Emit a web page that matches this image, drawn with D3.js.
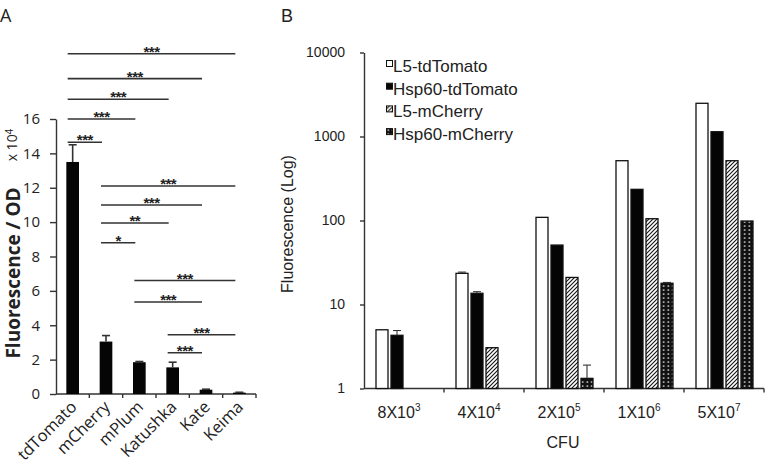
<!DOCTYPE html>
<meta charset="utf-8">
<head>
<style>
body { margin: 0; background: #fff; }
svg { display: block; background: #fff; }
.pa text { font-family: "Open Sans", "Noto Sans", sans-serif; fill: #222; }
.pb text { font-family: "Liberation Sans", Arial, sans-serif; fill: #222; }
.axis path, .axis line { stroke: #333; stroke-width: 1.4px; }
.sig { stroke: #333; stroke-width: 1.6px; }
</style>
<script src="https://d3js.org/d3.v7.min.js"></script>
</head>
<body>
<svg width="766" height="465"></svg>
<script>

// ---- panel A : fluorescence / OD (x 10^4) per protein
var proteins = ["tdTomato", "mCherry", "mPlum", "Katushka", "Kate", "Keima"];
var fluorOD  = [13.5, 3.05, 1.85, 1.55, 0.25, 0.08];
var fluorErr = [1.0, 0.35, 0.04, 0.3, 0.03, 0.02];
var yTicksA  = [0, 2, 4, 6, 8, 10, 12, 14, 16];

// significance brackets (from, to, height in y units, stars)
var sigFrom  = ["tdTomato", "tdTomato", "tdTomato", "tdTomato", "tdTomato",
                "mCherry", "mCherry", "mCherry", "mCherry",
                "mPlum", "mPlum", "Katushka", "Katushka"];
var sigTo    = ["Keima", "Kate", "Katushka", "mPlum", "mCherry",
                "Keima", "Kate", "Katushka", "mPlum",
                "Keima", "Kate", "Keima", "Kate"];
var sigLevel = [19.8, 18.35, 17.15, 16.0, 14.65, 12.1, 11.0, 9.95, 8.8, 6.6, 5.35, 3.45, 2.4];
var sigStars = ["***", "***", "***", "***", "***", "***", "***", "**", "*", "***", "***", "***", "***"];

// ---- panel B : fluorescence (log) vs CFU
var cfuBase = ["8X10", "4X10", "2X10", "1X10", "5X10"];
var cfuExp  = ["3", "4", "5", "6", "7"];
var strains = ["L5-tdTomato", "Hsp60-tdTomato", "L5-mCherry", "Hsp60-mCherry"];
var l5Tomato     = [5, 23.5, 109, 515, 2485];
var hspTomato    = [4.3, 13.6, 51, 235, 1140];
var l5Cherry     = [null, 3.06, 21, 105, 515];
var hspCherry    = [null, null, 1.32, 17.9, 98.6];
var l5TomatoErr  = [0, 0.8, 0, 0, 0];
var hspTomatoErr = [0.6, 0.6, 0, 0, 0];
var l5CherryErr  = [0, 0, 0, 0, 0];
var hspCherryErr = [0, 0, 0.58, 0.4, 0];
var yTicksB = [1, 10, 100, 1000, 10000];

var svg = d3.select("svg");

// patterns for the mCherry bars
var defs = svg.append("defs");
var hatch = defs.append("pattern").attr("id", "hatch")
    .attr("patternUnits", "userSpaceOnUse").attr("width", 4).attr("height", 4);
hatch.append("rect").attr("width", 4).attr("height", 4).attr("fill", "#fff");
hatch.append("path").attr("d", "M-1,1 l2,-2 M0,4 l4,-4 M3,5 l2,-2")
    .attr("stroke", "#111").attr("stroke-width", 1.1);
var dots = defs.append("pattern").attr("id", "dots")
    .attr("patternUnits", "userSpaceOnUse").attr("width", 4.5).attr("height", 4);
dots.append("rect").attr("width", 4.5).attr("height", 4).attr("fill", "#111");
dots.append("circle").attr("cx", 2.25).attr("cy", 2).attr("r", 0.85).attr("fill", "#fff");

/* ================= panel A ================= */
var gA = svg.append("g").attr("class", "pa");

var xA = d3.scaleBand().domain(proteins).range([56, 256])
    .paddingInner(0.62).paddingOuter(0.31);
var yA = d3.scaleLinear().domain([0, 16]).range([394, 119]);

gA.append("g").attr("class", "axis")
    .attr("transform", "translate(56,0)")
    .call(d3.axisLeft(yA).tickValues(yTicksA).tickSize(6).tickSizeOuter(0).tickPadding(10))
    .call(function(g) { g.selectAll("text").style("font-size", "15px"); });

// x axis line with ticks between categories
gA.append("line").attr("class", "sig")
    .attr("x1", xA.range()[0]).attr("x2", xA.range()[1])
    .attr("y1", yA(0)).attr("y2", yA(0)).style("stroke-width", 1.4);
gA.selectAll(".xtick").data(d3.range(1, proteins.length + 1))
  .enter().append("line").attr("class", "sig")
    .attr("x1", function(i) { return xA.range()[0] + i * xA.step(); })
    .attr("x2", function(i) { return xA.range()[0] + i * xA.step(); })
    .attr("y1", yA(0)).attr("y2", yA(0) + 4).style("stroke-width", 1.4);

var barsA = proteins.map(function(p, i) { return { name: p, v: fluorOD[i], e: fluorErr[i] }; });

gA.selectAll(".barA").data(barsA).enter().append("rect")
    .attr("x", function(d) { return xA(d.name); })
    .attr("y", function(d) { return yA(d.v); })
    .attr("width", xA.bandwidth())
    .attr("height", function(d) { return yA(0) - yA(d.v); })
    .attr("fill", "#050505");

var errA = gA.selectAll(".errA").data(barsA).enter().append("g")
    .attr("transform", function(d) { return "translate(" + (xA(d.name) + xA.bandwidth() / 2) + ",0)"; });
errA.append("line").attr("class", "sig")
    .attr("y1", function(d) { return yA(d.v); })
    .attr("y2", function(d) { return yA(d.v + d.e); });
errA.append("line").attr("class", "sig")
    .attr("x1", -4).attr("x2", 4)
    .attr("y1", function(d) { return yA(d.v + d.e); })
    .attr("y2", function(d) { return yA(d.v + d.e); });

// rotated category labels
gA.selectAll(".labA").data(proteins).enter().append("text")
    .attr("transform", function(d) {
      return "translate(" + (xA(d) + xA.bandwidth() / 2 + 5) + "," + (yA(0) + 14) + ") rotate(-45)";
    })
    .attr("text-anchor", "end")
    .style("font-size", "16.5px")
    .text(function(d) { return d; });

// significance brackets
var sig = sigFrom.map(function(f, i) {
  return { x1: xA(f) + xA.bandwidth() / 2 - 5, x2: xA(sigTo[i]) + xA.bandwidth() / 2 - 4,
           y: yA(sigLevel[i]), s: sigStars[i] };
});
gA.selectAll(".sigline").data(sig).enter().append("line").attr("class", "sig")
    .attr("x1", function(d) { return d.x1; })
    .attr("x2", function(d) { return d.x2; })
    .attr("y1", function(d) { return d.y; })
    .attr("y2", function(d) { return d.y; });
gA.selectAll(".sigtxt").data(sig).enter().append("text")
    .attr("x", function(d) { return (d.x1 + d.x2) / 2; })
    .attr("y", function(d) { return d.y + 3; })
    .attr("text-anchor", "middle")
    .style("font-size", "15px").style("font-weight", "bold")
    .style("letter-spacing", "-0.5px")
    .style("font-family", "'Liberation Sans', Arial, sans-serif")
    .text(function(d) { return d.s; });

// titles
gA.append("text").attr("x", 0).attr("y", 22).style("font-size", "18px").text("A");
gA.append("text")
    .attr("transform", "translate(20,273) rotate(-90)")
    .attr("text-anchor", "middle")
    .style("font-size", "19px").style("font-weight", "bold")
    .text("Fluorescence / OD");
var exp4 = gA.append("text")
    .attr("transform", "translate(17,145) rotate(-90)")
    .attr("text-anchor", "middle")
    .style("font-size", "14px");
exp4.append("tspan").text("x 10");
exp4.append("tspan").attr("dy", -4).style("font-size", "10px").text("4");

/* ================= panel B ================= */
var gB = svg.append("g").attr("class", "pb");

var xB = d3.scaleBand().domain(cfuBase).range([364, 764]);
var xS = d3.scaleBand().domain(strains).range([12, 69]).paddingInner(0.2);
var yB = d3.scaleLog().domain([1, 10000]).range([388.5, 52.5]);

gB.append("g").attr("class", "axis")
    .attr("transform", "translate(364,0)")
    .call(d3.axisLeft(yB).tickValues(yTicksB).tickFormat(d3.format("d"))
          .tickSize(4).tickSizeOuter(0).tickPadding(15))
    .call(function(g) { g.selectAll("text").style("font-size", "14px"); });

gB.append("line").attr("class", "sig")
    .attr("x1", 364).attr("x2", 764).attr("y1", yB(1)).attr("y2", yB(1))
    .style("stroke-width", 1.4);
gB.selectAll(".xtick").data(cfuBase).enter().append("line").attr("class", "sig")
    .attr("x1", function(d) { return xB(d) + xB.bandwidth(); })
    .attr("x2", function(d) { return xB(d) + xB.bandwidth(); })
    .attr("y1", yB(1)).attr("y2", yB(1) + 4).style("stroke-width", 1.4);

var fills = ["#fff", "#050505", "url(#hatch)", "url(#dots)"];
var seriesVals = [l5Tomato, hspTomato, l5Cherry, hspCherry];
var seriesErr  = [l5TomatoErr, hspTomatoErr, l5CherryErr, hspCherryErr];

var barsB = [];
strains.forEach(function(s, si) {
  cfuBase.forEach(function(c, ci) {
    var v = seriesVals[si][ci];
    if (v != null) barsB.push({ s: s, c: c, v: v, e: seriesErr[si][ci], f: fills[si] });
  });
});

gB.selectAll(".barB").data(barsB).enter().append("rect")
    .attr("x", function(d) { return xB(d.c) + xS(d.s); })
    .attr("y", function(d) { return yB(d.v); })
    .attr("width", xS.bandwidth())
    .attr("height", function(d) { return yB(1) - yB(d.v); })
    .attr("fill", function(d) { return d.f; })
    .attr("stroke", "#111").attr("stroke-width", 1.3);

var errB = gB.selectAll(".errB").data(barsB.filter(function(d) { return d.e > 0; }))
  .enter().append("g")
    .attr("transform", function(d) { return "translate(" + (xB(d.c) + xS(d.s) + xS.bandwidth() / 2) + ",0)"; });
errB.append("line").attr("class", "sig").style("stroke-width", 1.1)
    .attr("y1", function(d) { return yB(d.v); })
    .attr("y2", function(d) { return yB(d.v + d.e); });
errB.append("line").attr("class", "sig").style("stroke-width", 1.1)
    .attr("x1", -4).attr("x2", 4)
    .attr("y1", function(d) { return yB(d.v + d.e); })
    .attr("y2", function(d) { return yB(d.v + d.e); });

// CFU tick labels with superscript exponents
var labB = gB.selectAll(".labB").data(cfuBase).enter().append("text")
    .attr("x", function(d) { return xB(d) + xB.bandwidth() / 2 - 5; })
    .attr("y", 418)
    .attr("text-anchor", "middle")
    .style("font-size", "16px");
labB.append("tspan").text(function(d) { return d; });
labB.append("tspan").attr("dy", -7).style("font-size", "10px")
    .text(function(d, i) { return cfuExp[i]; });

gB.append("text").attr("x", 563).attr("y", 448).attr("text-anchor", "middle")
    .style("font-size", "16px").text("CFU");
gB.append("text")
    .attr("transform", "translate(293,224) rotate(-90)")
    .attr("text-anchor", "middle")
    .style("font-size", "16px")
    .text("Fluorescence (Log)");
gB.append("text").attr("x", 281).attr("y", 22).style("font-size", "18px").text("B");

// legend
var leg = gB.selectAll(".leg").data(strains).enter().append("g")
    .attr("transform", function(d, i) { return "translate(386," + (72 + i * 22.7) + ")"; });
leg.append("rect").attr("x", 0.5).attr("y", -11.5).attr("width", 6).attr("height", 6)
    .attr("fill", function(d, i) { return fills[i]; })
    .attr("stroke", "#111").attr("stroke-width", 1);
leg.append("text").attr("x", 7).attr("y", 0)
    .style("font-size", "17px")
    .text(function(d) { return d; });

</script>
</body>
